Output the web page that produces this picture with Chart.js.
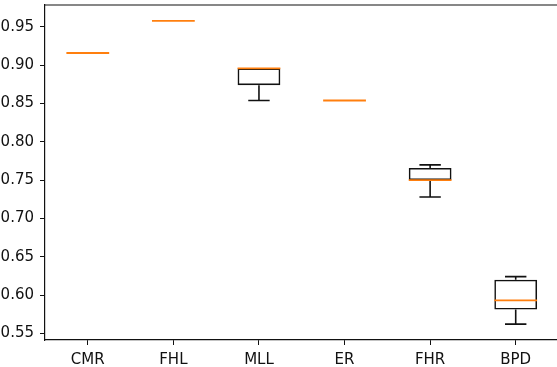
<!DOCTYPE html>
<html>
<head>
<meta charset="utf-8">
<script src="https://cdn.jsdelivr.net/npm/chart.js@4/dist/chart.umd.min.js"></script>
<style>
  html, body { margin: 0; padding: 0; background: #fff; overflow: hidden; }
  #wrap { width: 560px; height: 367px; position: relative; }
</style>
</head>
<body>
<div id="wrap"><canvas id="c"></canvas></div>
<script>
// Five-number summaries per feature
const categories  = ['CMR', 'FHL', 'MLL', 'ER', 'FHR', 'BPD'];
const whiskerLow  = [0.916, 0.958, 0.854, 0.854, 0.728, 0.562];
const q1          = [0.916, 0.958, 0.874, 0.854, 0.750, 0.581];
const medians     = [0.916, 0.958, 0.896, 0.854, 0.750, 0.593];
const q3          = [0.916, 0.958, 0.896, 0.854, 0.766, 0.620];
const whiskerHigh = [0.916, 0.958, 0.896, 0.854, 0.770, 0.624];
const yTicks      = [0.55, 0.60, 0.65, 0.70, 0.75, 0.80, 0.85, 0.90, 0.95];

const boxRanges = categories.map((_, i) => [q1[i], q3[i]]);

// Whiskers, caps and median lines drawn with the chart's own scales
const boxDetails = {
  id: 'boxDetails',
  afterDatasetsDraw(chart) {
    const { ctx, scales: { x, y }, chartArea } = chart;
    const catW = x.getPixelForValue(1) - x.getPixelForValue(0);
    const boxHalf = catW * 0.25;
    const capHalf = catW * 0.125;
    ctx.save();
    ctx.beginPath();
    ctx.rect(chartArea.left, chartArea.top, chartArea.right - chartArea.left, chartArea.bottom - chartArea.top);
    ctx.clip();
    categories.forEach((_, i) => {
      const cx = x.getPixelForValue(i);
      const yLo = y.getPixelForValue(whiskerLow[i]);
      const yQ1 = y.getPixelForValue(q1[i]);
      const yQ3 = y.getPixelForValue(q3[i]);
      const yHi = y.getPixelForValue(whiskerHigh[i]);
      ctx.strokeStyle = '#111';
      ctx.lineWidth = 1.6;
      ctx.beginPath();
      if (yLo !== yQ1) {
        ctx.moveTo(cx, yQ1); ctx.lineTo(cx, yLo);
        ctx.moveTo(cx - capHalf, yLo); ctx.lineTo(cx + capHalf, yLo);
      }
      if (yHi !== yQ3) {
        ctx.moveTo(cx, yQ3); ctx.lineTo(cx, yHi);
        ctx.moveTo(cx - capHalf, yHi); ctx.lineTo(cx + capHalf, yHi);
      }
      ctx.stroke();
      const yMed = y.getPixelForValue(medians[i]);
      ctx.strokeStyle = '#ff7f0e';
      ctx.lineWidth = 1.8;
      ctx.beginPath();
      ctx.moveTo(cx - boxHalf, yMed); ctx.lineTo(cx + boxHalf, yMed);
      ctx.stroke();
    });
    ctx.restore();
  },
  afterDraw(chart) {
    const { ctx, chartArea } = chart;
    ctx.save();
    ctx.strokeStyle = '#111';
    ctx.lineWidth = 1.2;
    ctx.beginPath();
    ctx.moveTo(chartArea.left, chartArea.top);
    ctx.lineTo(chartArea.right, chartArea.top);
    ctx.stroke();
    ctx.restore();
  }
};

const font = { family: 'DejaVu Sans', size: 15 };

new Chart(document.getElementById('c'), {
  type: 'bar',
  data: {
    labels: categories,
    datasets: [{
      data: boxRanges,
      backgroundColor: 'rgba(0,0,0,0)',
      borderColor: c => (q1[c.dataIndex] === q3[c.dataIndex] ? 'rgba(0,0,0,0)' : '#111'),
      borderWidth: 1.6,
      borderSkipped: false,
      categoryPercentage: 1,
      barPercentage: 0.5
    }]
  },
  options: {
    responsive: true,
    maintainAspectRatio: false,
    animation: false,
    devicePixelRatio: 1,
    layout: { padding: { top: 5, right: 1.5, left: 0, bottom: 0 } },
    plugins: { legend: { display: false }, tooltip: { enabled: false }, title: { display: false } },
    scales: {
      x: {
        offset: true,
        grid: { display: true, drawOnChartArea: false, drawTicks: true, tickLength: 5, color: '#111', offset: false },
        border: { display: true, color: '#111', width: 1.2 },
        ticks: { color: '#111', font, padding: 6, maxRotation: 0 },
        afterFit(s) { s.height = 27; s.paddingLeft = 0; s.paddingRight = 0; }
      },
      y: {
        min: 0.5413,
        max: 0.9787,
        grid: { display: true, drawOnChartArea: false, drawTicks: true, tickLength: 5, color: '#111' },
        border: { display: true, color: '#111', width: 1.2 },
        afterBuildTicks(s) { s.ticks = yTicks.map(v => ({ value: v })); },
        ticks: { color: '#111', font, padding: 6, callback: v => v.toFixed(2) },
        afterFit(s) { s.width = 45; s.paddingTop = 0; s.paddingBottom = 0; }
      }
    }
  },
  plugins: [boxDetails]
});
</script>
</body>
</html>
